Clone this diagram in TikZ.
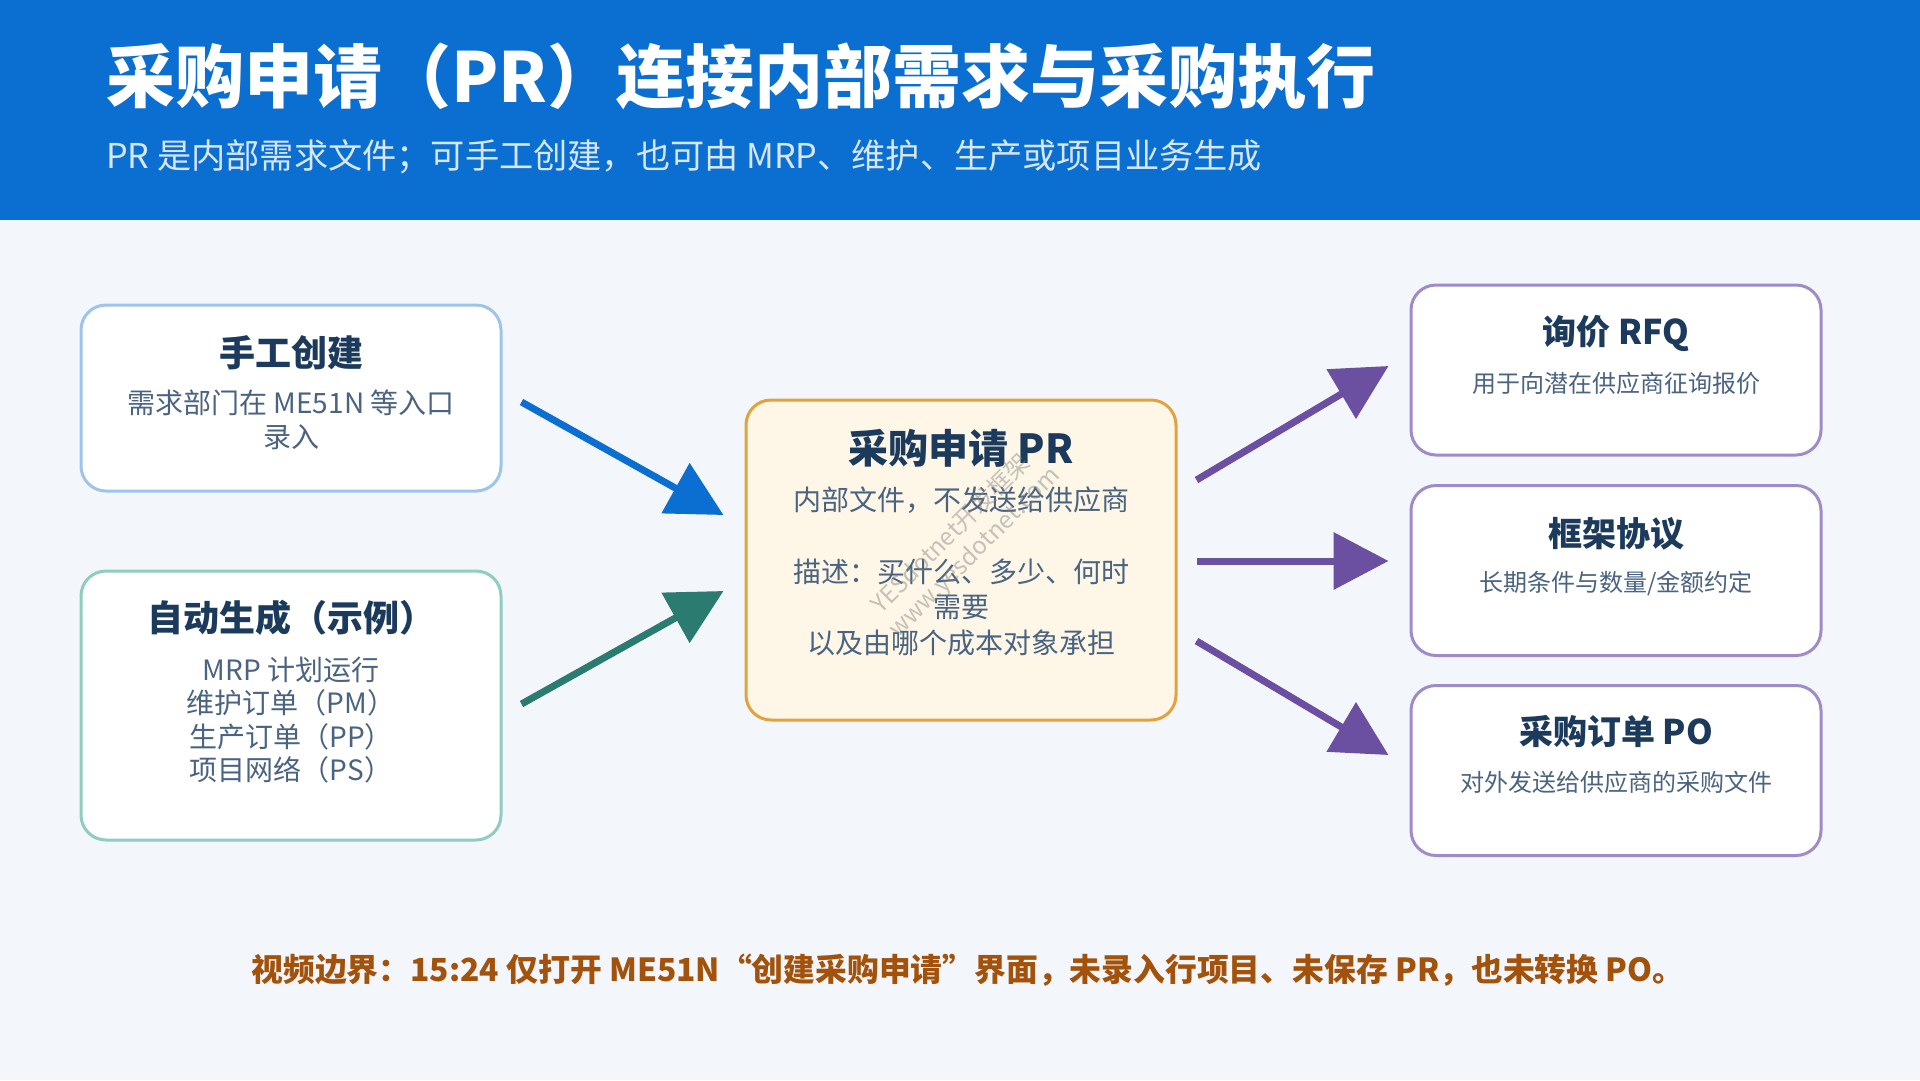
\documentclass[tikz,border=0pt]{standalone}
\usepackage{fontspec}
\setmainfont{Noto Sans CJK SC}
\usetikzlibrary{arrows.meta,calc}
\definecolor{hdr}{HTML}{0B6FD1}
\definecolor{bgc}{HTML}{F3F7FC}
\definecolor{subc}{HTML}{D8E7F8}
\definecolor{navy}{HTML}{1B3A5C}
\definecolor{bodyc}{HTML}{4A6380}
\definecolor{bluebd}{HTML}{9DC5E9}
\definecolor{tealbd}{HTML}{8ECDC0}
\definecolor{orgbd}{HTML}{E3A23C}
\definecolor{cream}{HTML}{FEF7E8}
\definecolor{purbd}{HTML}{A08BC9}
\definecolor{bluearr}{HTML}{0B6FD1}
\definecolor{tealarr}{HTML}{2B7B70}
\definecolor{purarr}{HTML}{6B4FA0}
\definecolor{brown}{HTML}{A3520B}
\tikzset{
  card/.style={draw, line width=3pt, fill=white, rounded corners=25pt, inner sep=0pt},
  ttl/.style={text=navy, font=\fontsize{36}{43}\selectfont\bfseries, inner sep=0pt},
  bigttl/.style={text=navy, font=\fontsize{40}{48}\selectfont\bfseries, inner sep=0pt},
  rttl/.style={text=navy, font=\fontsize{34}{41}\selectfont\bfseries, inner sep=0pt},
  body/.style={text=bodyc, font=\fontsize{28}{33.5}\selectfont, align=center, inner sep=0pt},
  cbody/.style={text=bodyc, font=\fontsize{28}{35.5}\selectfont, align=center, inner sep=0pt},
  rbody/.style={text=bodyc, font=\fontsize{24}{30}\selectfont, align=center, inner sep=0pt},
  arr/.style={line width=7pt, -{Triangle[length=55pt,width=56pt]}},
  wm/.style={text=gray, opacity=0.45, font=\fontsize{24}{28}\selectfont, rotate=45, inner sep=0pt}
}
\begin{document}
\begin{tikzpicture}[x=1pt,y=-1pt]
\useasboundingbox (0,0) rectangle (1920,1080);
\fill[bgc] (0,0) rectangle (1920,1080);
\fill[hdr] (0,0) rectangle (1920,220);
\node[anchor=west, text=white, font=\fontsize{69}{78}\selectfont\bfseries, inner sep=0pt] (title) at (106,76) {采购申请（PR）连接内部需求与采购执行};
\node[anchor=west, text=subc, font=\fontsize{34.2}{40}\selectfont, inner sep=0pt] (sub) at (106,157) {PR 是内部需求文件；可手工创建，也可由 MRP、维护、生产或项目业务生成};

% left cards
\node[card, draw=bluebd, minimum width=420pt, minimum height=186pt] (b1) at (291,398) {};
\node[ttl] (b1t) at (291,353) {手工创建};
\node[body] (b1b) at (291,420) {需求部门在 ME51N 等入口\\录入};

\node[card, draw=tealbd, minimum width=420pt, minimum height=269pt] (b2) at (291,705.5) {};
\node[ttl] (b2t) at (291,618) {自动生成（示例）};
\node[body] (b2b) at (291,720) {MRP 计划运行\\维护订单（PM）\\生产订单（PP）\\项目网络（PS）};

% center card
\node[card, draw=orgbd, fill=cream, minimum width=430pt, minimum height=320pt] (pr) at (961,560) {};
\node[bigttl] (prt) at (961,448) {采购申请 PR};
\node[cbody] (prb1) at (961,500) {内部文件，不发送给供应商};
\node[cbody] (prb2) at (961,607) {描述：买什么、多少、何时\\需要\\以及由哪个成本对象承担};
\node[wm] (wm1) at (950,533) {YESdotnet开发框架};
\node[wm] (wm2) at (975,553) {www.yesdotnet.com};

% right cards
\node[card, draw=purbd, minimum width=410pt, minimum height=170pt] (r1) at (1616,370) {};
\node[rttl] (r1t) at (1616,333) {询价 RFQ};
\node[rbody] (r1b) at (1616,383) {用于向潜在供应商征询报价};

\node[card, draw=purbd, minimum width=410pt, minimum height=170pt] (r2) at (1616,570.5) {};
\node[rttl] (r2t) at (1616,534) {框架协议};
\node[rbody] (r2b) at (1616,583) {长期条件与数量/金额约定};

\node[card, draw=purbd, minimum width=410pt, minimum height=170pt] (r3) at (1616,770.5) {};
\node[rttl] (r3t) at (1616,732) {采购订单 PO};
\node[rbody] (r3b) at (1616,782) {对外发送给供应商的采购文件};

% arrow end points
\coordinate (a1s) at ($(b1.east)+(19,4)$);
\coordinate (a1e) at ($(pr.west)+(-21,-45)$);
\coordinate (a2s) at ($(b2.east)+(19,-1.5)$);
\coordinate (a2e) at ($(pr.west)+(-21,31)$);
\coordinate (a3s) at ($(pr.east)+(19,-80)$);
\coordinate (a3e) at ($(r1.west)+(-21,-4)$);
\coordinate (a4s) at ($(pr.east)+(19,1)$);
\coordinate (a4e) at ($(r2.west)+(-21,-9.5)$);
\coordinate (a5s) at ($(pr.east)+(19,81)$);
\coordinate (a5e) at ($(r3.west)+(-21,-15.5)$);

\draw[arr, bluearr] (a1s) -- (a1e);
\draw[arr, tealarr] (a2s) -- (a2e);
\draw[arr, purarr] (a3s) -- (a3e);
\draw[arr, purarr] (a4s) -- (a4e);
\draw[arr, purarr] (a5s) -- (a5e);

\node[text=brown, font=\fontsize{31.8}{36}\selectfont\bfseries, inner sep=0pt] (foot) at (968,970) {视频边界：15:24 仅打开 ME51N“创建采购申请”界面，未录入行项目、未保存 PR，也未转换 PO。};
\end{tikzpicture}
\end{document}
